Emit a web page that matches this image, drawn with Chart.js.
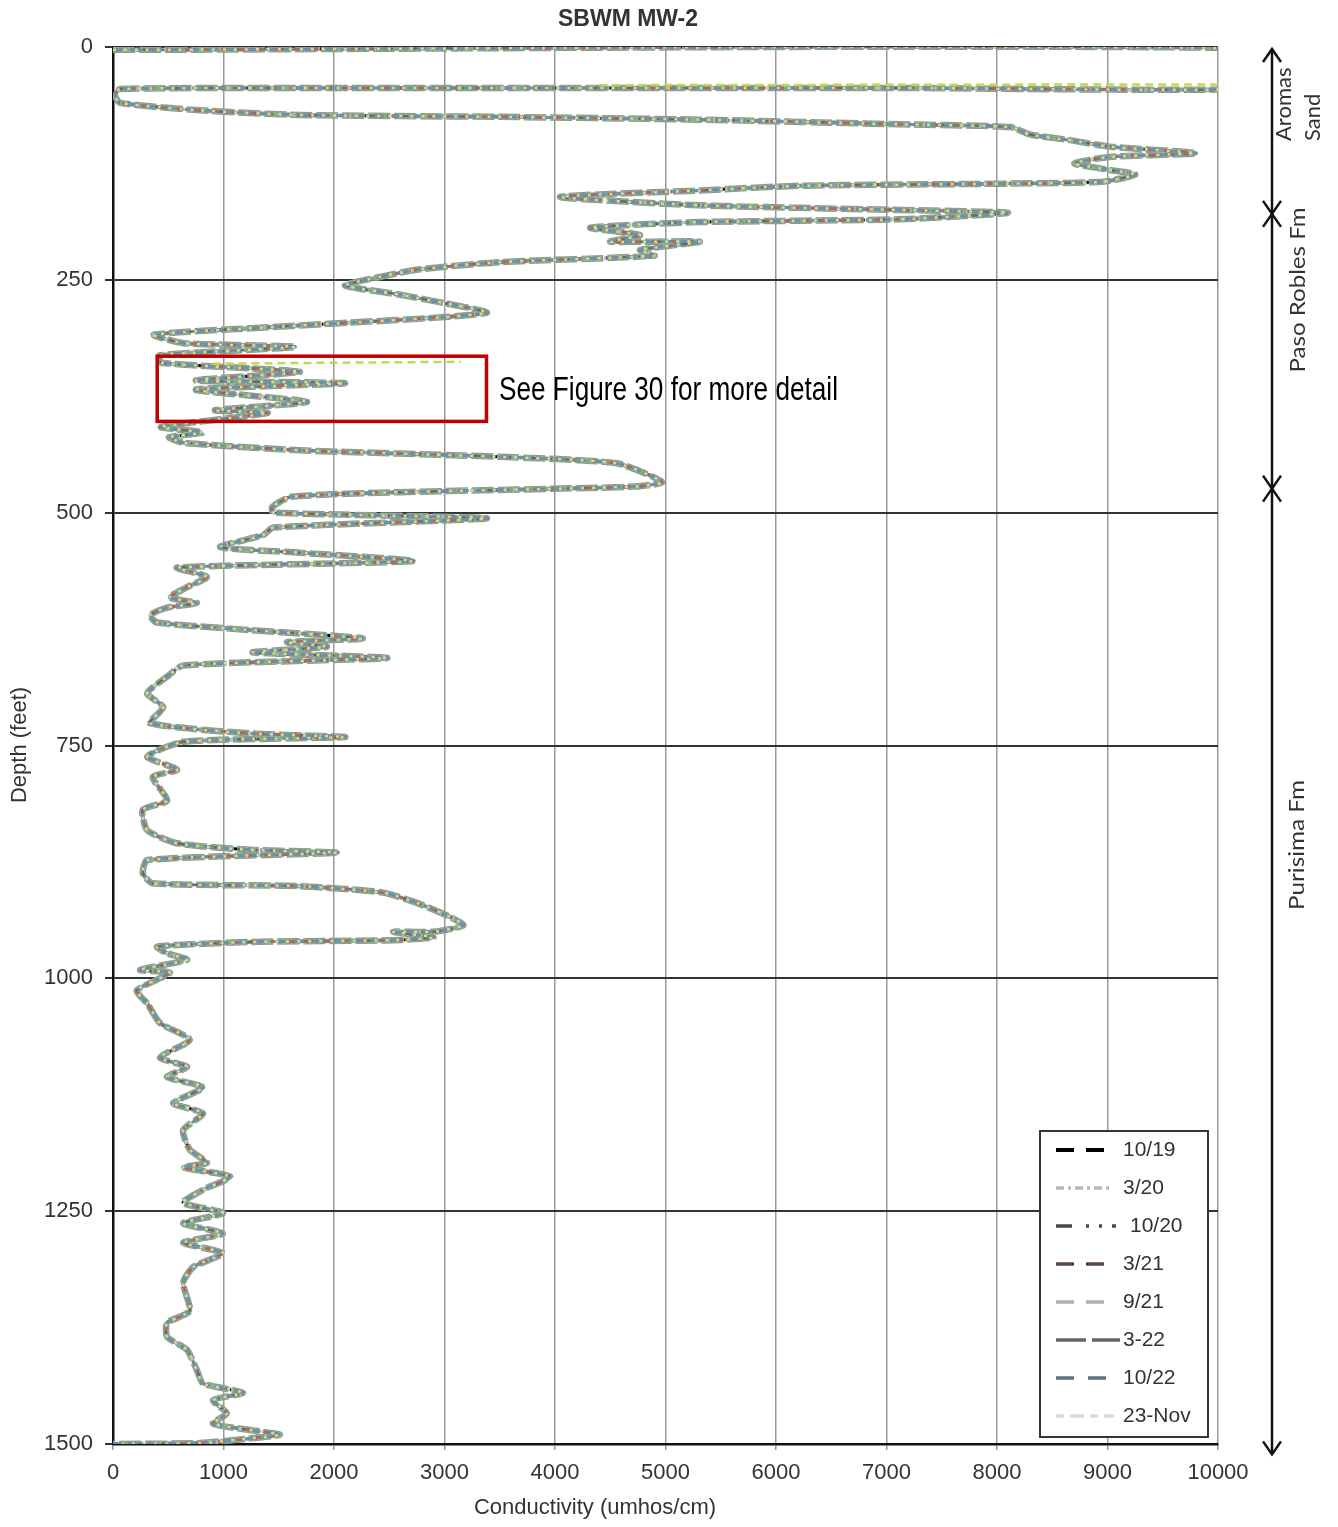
<!DOCTYPE html>
<html>
<head>
<meta charset="utf-8">
<script src="https://cdn.jsdelivr.net/npm/chart.js@4.4.0/dist/chart.umd.min.js"></script>
<style>
  body { margin: 0; background: #fff; }
  canvas { display: block; }
</style>
</head>
<body>
<canvas id="myChart" width="1338" height="1527"></canvas>
<script>
// conductivity log (depth in feet, conductivity in umhos/cm)
const depthFt = [3, 3, 42, 44, 44, 45, 52, 60, 68, 73,
  75, 78, 83, 86, 94, 100, 107, 114, 118, 125,
  132, 137, 145, 149, 154, 161, 170, 175, 178, 185,
  188, 194, 202, 209, 209, 218, 224, 231, 239, 248,
  256, 266, 275, 285, 290, 296, 302, 309, 318, 322,
  331, 339, 345, 349, 358, 361, 368, 381, 390, 393,
  408, 414, 419, 425, 433, 440, 447, 467, 472, 478,
  483, 494, 500, 506, 516, 524, 537, 543, 552, 559,
  569, 580, 591, 597, 602, 610, 618, 626, 635, 639,
  644, 650, 656, 664, 676, 694, 709, 726, 737, 741,
  746, 762, 776, 784, 809, 819, 841, 855, 862, 865,
  873, 887, 898, 901, 908, 919, 934, 943, 950, 950,
  956, 959, 961, 966, 973, 980, 991, 994, 1013, 1027,
  1048, 1066, 1085, 1095, 1106, 1117, 1134, 1145, 1163, 1184,
  1198, 1203, 1213, 1227, 1241, 1252, 1263, 1274, 1284, 1295,
  1310, 1327, 1357, 1370, 1385, 1399, 1421, 1435, 1445, 1453,
  1467, 1478, 1485, 1490, 1494, 1499, 1500];
const conductivity = [0, 11000, 11000, 7120, 2600, 63, 18, 63, 787, 1690,
  3500, 5310, 7120, 8120, 8300, 8660, 9020, 9800, 9020, 8700,
  9020, 9250, 8930, 6220, 5310, 4045, 5310, 7120, 8100, 7120,
  5310, 4320, 4770, 4500, 5310, 4770, 4900, 3500, 2760, 2370,
  2100, 2600, 3000, 3385, 3000, 2135, 1240, 370, 640, 1650,
  425, 435, 1240, 1690, 750, 2100, 750, 1755, 923, 1400,
  435, 815, 507, 640, 1690, 3500, 4560, 4970, 4730, 2600,
  1610, 1440, 1450, 3385, 1450, 1360, 970, 1690, 2715, 580,
  850, 670, 515, 760, 490, 335, 400, 1240, 2260, 1575,
  1935, 1265, 2480, 635, 490, 310, 455, 335, 1240, 2100,
  635, 310, 580, 360, 490, 270, 310, 580, 1240, 2030,
  310, 270, 360, 1690, 2445, 2750, 3050, 3170, 2900, 2535,
  2900, 2535, 1240, 400, 490, 670, 245, 515, 215, 310,
  425, 695, 425, 670, 490, 815, 545, 815, 635, 695,
  850, 635, 1060, 815, 635, 995, 635, 995, 635, 995,
  725, 635, 695, 490, 490, 670, 760, 815, 1175, 905,
  1030, 905, 1240, 1510, 1240, 790, 0];

// where the 23-Nov survey parts from the others
const novTopCond = [4400, 7500, 11000];
const novTopDepth = [41, 40.5, 40];
const novTailCond = [900, 2000, 3150];
const novTailDepth = [340, 339, 338];

const seriesNames = ['10/19', '3/20', '10/20', '3/21', '9/21', '3-22', '10/22', '23-Nov'];
const xTicks = [0, 1000, 2000, 3000, 4000, 5000, 6000, 7000, 8000, 9000, 10000];
const yTicks = [0, 250, 500, 750, 1000, 1250, 1500];
const formationTops = [0, 177, 472, 1509];
const formationNames = ['Aromas Sand', 'Paso Robles Fm', 'Purisima Fm'];

const chartTitle = 'SBWM MW-2';
const xTitle = 'Conductivity (umhos/cm)';
const yTitle = 'Depth (feet)';

// line styles per series
const lineColors = ['#000000', '#b4b9b2', '#646c66', '#a86a62', '#7fb08c', '#8e9a8c', '#6a92a8', '#d6dc8c'];
const lineDashes = [[10, 7], [6, 3, 2, 3], [10, 9, 2, 9], [7, 11], [8, 6], [22, 4], [10, 9], [3, 8]];
const lineWidths = [3, 4.5, 2.5, 3, 4, 6.5, 3, 2.5];
const drawOrder = [8, 6, 4, 3, 5, 7, 2, 1];
// legend samples
const legendColors = ['#000000', '#b8b8b8', '#4a4a4a', '#5a4444', '#a8b4a8', '#666666', '#607080', '#dcdcd0'];
const legendDashes = [[18, 12], [8, 4, 3, 4], [16, 14, 3, 10, 3, 10], [18, 12], [18, 12], [30, 6], [18, 14], [8, 6, 14, 6]];
const legendEnds = [1104, 1110, 1116, 1104, 1104, 1120, 1110, 1114];

const FONT = '"Liberation Sans", Arial, sans-serif';

function makePoints(xs, ys) {
    return xs.map((v, i) => ({x: v, y: ys[i]}));
}
const tracePts = makePoints(conductivity, depthFt);

let datasets = seriesNames.map((name, i) => ({
    label: name,
    data: tracePts,
    showLine: true,
    borderColor: lineColors[i],
    borderDash: lineDashes[i],
    borderWidth: lineWidths[i],
    pointRadius: 0,
    tension: 0.2,
    order: drawOrder[i]
}));
// extra pieces of the 23-Nov line
[[novTopCond, novTopDepth], [novTailCond, novTailDepth]].forEach(p => {
    datasets.push({
        label: '23-Nov',
        data: makePoints(p[0], p[1]),
        showLine: true,
        borderColor: '#c9d64a',
        borderDash: [8, 5],
        borderWidth: 2.5,
        pointRadius: 0,
        order: 0
    });
});

function fitText(ctx, text, x, y, len, font, align, rotate) {
    ctx.save();
    ctx.font = font;
    ctx.translate(x, y);
    if (rotate) ctx.rotate(-Math.PI / 2);
    let w = ctx.measureText(text).width;
    ctx.scale(len / w, 1);
    ctx.textAlign = align;
    ctx.textBaseline = 'middle';
    ctx.fillText(text, 0, 0);
    ctx.restore();
}

function arrowHead(ctx, x, y, dir) {
    // dir = -1 points up, 1 points down
    ctx.beginPath();
    ctx.moveTo(x - 9, y - dir * 13);
    ctx.lineTo(x, y);
    ctx.lineTo(x + 9, y - dir * 13);
    ctx.stroke();
}

const decor = {
    id: 'decor',
    beforeDraw(chart) {
        const ctx = chart.ctx;
        ctx.save();
        ctx.fillStyle = '#fff';
        ctx.fillRect(0, 0, chart.width, chart.height);
        ctx.restore();
    },
    afterDraw(chart) {
        const ctx = chart.ctx;
        const xs = chart.scales.x, ys = chart.scales.y;
        ctx.save();

        // title
        ctx.fillStyle = '#333';
        ctx.font = 'bold 23px ' + FONT;
        ctx.textAlign = 'center';
        ctx.textBaseline = 'middle';
        ctx.fillText(chartTitle, 628, 20);

        // axis titles
        ctx.font = '22px ' + FONT;
        ctx.fillText(xTitle, 595, 1508);
        ctx.save();
        ctx.translate(20, 745);
        ctx.rotate(-Math.PI / 2);
        ctx.fillText(yTitle, 0, 0);
        ctx.restore();

        // red box + note
        const bx1 = xs.getPixelForValue(400), bx2 = xs.getPixelForValue(3380);
        const by1 = ys.getPixelForValue(332), by2 = ys.getPixelForValue(402);
        ctx.strokeStyle = '#c00000';
        ctx.lineWidth = 3.5;
        ctx.strokeRect(bx1, by1, bx2 - bx1, by2 - by1);
        ctx.fillStyle = '#000';
        fitText(ctx, 'See Figure 30 for more detail', 499, 391, 339,
            '33px "Liberation Sans Narrow", "Liberation Sans", Arial', 'left', false);

        // formation arrows
        const ax = 1272;
        const t = formationTops.map(d => ys.getPixelForValue(d) + 2);
        ctx.strokeStyle = '#111';
        ctx.lineWidth = 2.5;
        ctx.beginPath();
        ctx.moveTo(ax, t[0]);
        ctx.lineTo(ax, t[3]);
        ctx.stroke();
        arrowHead(ctx, ax, t[0], -1);
        arrowHead(ctx, ax, t[1], 1);
        arrowHead(ctx, ax, t[1], -1);
        arrowHead(ctx, ax, t[2], 1);
        arrowHead(ctx, ax, t[2], -1);
        arrowHead(ctx, ax, t[3], 1);

        ctx.fillStyle = '#333';
        const lf = '22px Lato, "Open Sans", sans-serif';
        const aw = formationNames[0].split(' ');
        ctx.save();
        ctx.font = lf;
        ctx.textAlign = 'left';
        ctx.textBaseline = 'middle';
        ctx.translate(1284, 141);
        ctx.rotate(-Math.PI / 2);
        ctx.fillText(aw[0], 0, 0);
        ctx.fillText(aw[1], 0, 29);
        ctx.restore();
        fitText(ctx, formationNames[1], 1298, 290, 165, lf, 'center', true);
        fitText(ctx, formationNames[2], 1297, 845, 130, lf, 'center', true);

        // legend
        const lx = 1040, ly = 1131, lw = 168, lh = 306;
        ctx.fillStyle = '#fff';
        ctx.fillRect(lx, ly, lw, lh);
        ctx.strokeStyle = '#333';
        ctx.lineWidth = 2;
        ctx.strokeRect(lx, ly, lw, lh);
        ctx.font = '21px ' + FONT;
        ctx.textAlign = 'left';
        ctx.textBaseline = 'middle';
        seriesNames.forEach((name, i) => {
            const yy = ly + 19 + i * 38;
            ctx.save();
            ctx.strokeStyle = legendColors[i];
            ctx.lineWidth = i === 0 ? 4 : 3.5;
            ctx.setLineDash(legendDashes[i]);
            ctx.beginPath();
            ctx.moveTo(1056, yy);
            ctx.lineTo(legendEnds[i], yy);
            ctx.stroke();
            ctx.restore();
            ctx.fillStyle = '#333';
            ctx.fillText(name, i === 2 ? 1130 : 1123, yy);
        });
        ctx.restore();
    }
};

let myChart = document.getElementById('myChart').getContext('2d');
let logChart = new Chart(myChart, {
    type: 'scatter',
    data: { datasets: datasets },
    options: {
        responsive: false,
        devicePixelRatio: 1,
        animation: false,
        layout: { padding: { top: 47, right: 120, left: 0, bottom: 0 } },
        plugins: {
            legend: { display: false },
            tooltip: { enabled: false },
            title: { display: false }
        },
        scales: {
            x: {
                type: 'linear',
                position: 'bottom',
                min: 0,
                max: 10000,
                afterBuildTicks: s => { s.ticks = xTicks.map(v => ({value: v})); },
                afterFit: s => { s.height = 83; },
                ticks: { color: '#333', font: { size: 22, family: FONT }, padding: 10, maxRotation: 0,
                    callback: v => String(v) },
                grid: { color: '#999', lineWidth: 1.5, tickLength: 6 },
                border: { color: '#111', width: 2.5 }
            },
            y: {
                type: 'linear',
                reverse: true,
                min: 0,
                max: 1500,
                afterBuildTicks: s => { s.ticks = yTicks.map(v => ({value: v})); },
                afterFit: s => { s.width = 113; },
                ticks: { color: '#333', font: { size: 22, family: FONT }, padding: 12,
                    callback: v => String(v) },
                grid: { color: '#333', lineWidth: 2, tickLength: 8 },
                border: { color: '#111', width: 2.5 }
            }
        }
    },
    plugins: [decor]
});
</script>
</body>
</html>
